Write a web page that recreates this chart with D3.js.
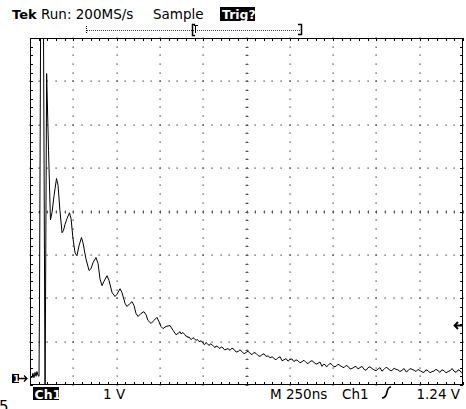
<!DOCTYPE html>
<html><head><meta charset="utf-8">
<script src="https://cdn.jsdelivr.net/npm/d3@7"></script>
<style>
html,body{margin:0;padding:0;background:#fff;}
svg{display:block;}
text{font-family:"DejaVu Sans",Arial,sans-serif;fill:#000;}
</style></head>
<body>
<svg id="c" width="466" height="409"></svg>
<script>
// ---- data (time in ns from left edge of screen, Ch1 voltage in V) ----
const timeNs = [0,12,17,23,29,35,40,46,52,55,62,77,87,96,107,118,127,139,153,162,173,185,193,202,214,228,237,248,260,271,283,297,306,323,341,352,364,381,393,404,416,427,445,456,474,491,502,520,531,549,560,577,589,601,612,624,641,658,670,681,699,716,733,745,756,768,785,808,826,
843,855,866,872,883,892,901,906,912,918,924,932,941,950,959,967,976,988,999,1008,1016,1025,1034,1042,1051,1060,1068,1074,1080,1088,1097,1105,1114,1123,1132,1143,1155,1166,1178,1190,1201,1212,1224,1236,1247,1259,1270,1282,1293,1305,1317,1328,1340,1351,1363,1375,1386,1398,1409,1420,1432,1444,1455,1466,1478,1490,1501,1512,1524,1536,1547,1559,1571,1582,1594,1605,1617,1628,1640,1652,1663,1674,1686,1695,1703,1712,1721,1732,1744,1755,1767,1778,1790,1801,1813,1825,1836,1848,1859,1870,1882,1894,1905,1917,1929,1940,1952,1963,1975,1986,1998,2010,2021,2032,2044,2056,2067,2078,2090,2102,2113,2124,2136,2148,2160,2172,2183,2194,2206,2218,2229,2240,2252,2264,2275,2286,2298,2310,2321,2332,2344,2356,2367,2378,2390,2402,2414,2426,2437,2448,2460,2472,2483,2492,2500];
const volts = [0.05,0.02,0.12,0.02,0.14,0.05,0.16,0.07,0.05,1.84,9,9,-0.5,7.03,5.25,3.66,3.82,4.22,4.61,4.45,3.87,3.36,3.41,3.55,3.69,3.82,3.69,3.23,2.90,2.83,3.06,3.25,3.13,2.76,2.49,2.53,2.67,2.79,2.65,2.30,2.14,2.24,2.37,2.26,1.98,1.89,1.94,2.07,1.98,1.73,1.66,1.73,1.77,1.68,1.50,1.43,1.50,1.54,1.47,1.34,1.27,1.34,1.41,1.31,1.20,1.15,1.20,1.22,1.11,
1.01,1.04,1.08,1.03,1.06,1.02,0.97,0.98,0.94,0.96,0.92,0.90,0.94,0.91,0.88,0.90,0.85,0.87,0.81,0.78,0.83,0.80,0.76,0.80,0.78,0.74,0.71,0.75,0.74,0.72,0.69,0.73,0.71,0.66,0.67,0.69,0.65,0.70,0.67,0.61,0.62,0.66,0.62,0.57,0.60,0.63,0.58,0.55,0.60,0.58,0.53,0.51,0.55,0.57,0.51,0.52,0.48,0.50,0.46,0.43,0.48,0.50,0.41,0.43,0.46,0.40,0.44,0.45,0.39,0.43,0.41,0.36,0.39,0.42,0.37,0.34,0.39,0.41,0.37,0.33,0.35,0.38,0.28,0.33,0.32,0.27,0.30,0.35,0.32,0.27,0.28,0.33,0.30,0.27,0.25,0.30,0.28,0.22,0.23,0.26,0.28,0.22,0.25,0.28,0.21,0.19,0.25,0.27,0.23,0.20,0.18,0.22,0.25,0.17,0.21,0.26,0.23,0.19,0.18,0.24,0.21,0.20,0.16,0.19,0.23,0.15,0.18,0.23,0.21,0.19,0.16,0.21,0.18,0.15,0.14,0.20,0.18,0.13,0.16,0.17,0.21,0.18,0.14,0.20,0.18,0.13,0.16,0.18,0.23,0.17,0.14,0.20,0.18,0.13,0.16];

// scope settings / labels
const headerLabels = ["Run: 200MS/s", "Sample"];
const trigStatus = "Trig?";
const footerLabels = ["1 V", "M 250ns", "Ch1", "1.24 V"];
const channelLabel = "Ch1";
const timePerDiv = 250;      // ns
const voltsPerDiv = 1;       // V
const trigLevel = 1.24;      // V
const hDivs = 10, vDivs = 8, minorPerDiv = 5;

// ---- layout ----
const L = 30, R = 463, T = 38, B = 385;
const groundOffsetV = -0.15;  // volts at bottom edge

const x = d3.scaleLinear().domain([0, timePerDiv*hDivs]).range([L, R]);
const y = d3.scaleLinear().domain([groundOffsetV, groundOffsetV + voltsPerDiv*vDivs]).range([B, T]);

const svg = d3.select("#c");

svg.append("clipPath").attr("id","scr").append("rect")
  .attr("x",L).attr("y",T).attr("width",R-L).attr("height",B-T);

const g = svg.append("g");

const xMinor = d3.range(0, hDivs*minorPerDiv+1).map(i => x(i*timePerDiv/minorPerDiv));
const yMinor = d3.range(0, vDivs*minorPerDiv+1).map(i => y(groundOffsetV + i*voltsPerDiv/minorPerDiv));
const xMajor = d3.range(1, hDivs).map(i => x(i*timePerDiv));
const yMajor = d3.range(1, vDivs).map(i => y(groundOffsetV + i*voltsPerDiv));

// grid dots
const dots = [];
xMajor.forEach(px => yMinor.forEach(py => dots.push([px,py])));
yMajor.forEach(py => xMinor.forEach(px => dots.push([px,py])));
g.selectAll("rect.dot").data(dots).enter().append("rect")
  .attr("x", d => Math.round(d[0])-0.5).attr("y", d => Math.round(d[1])-0.5)
  .attr("width",1.2).attr("height",1.2).attr("fill","#333");

// center axis ticks
const cx = x(timePerDiv*hDivs/2), cy = y(groundOffsetV + voltsPerDiv*vDivs/2);
g.selectAll("line.cvt").data(yMinor).enter().append("line")
  .attr("x1",Math.round(cx)-1.5).attr("x2",Math.round(cx)+1.5)
  .attr("y1",d=>Math.round(d)+0.5).attr("y2",d=>Math.round(d)+0.5)
  .attr("stroke","#555").attr("stroke-width",1);
g.selectAll("line.cht").data(xMinor).enter().append("line")
  .attr("y1",Math.round(cy)-1.5).attr("y2",Math.round(cy)+1.5)
  .attr("x1",d=>Math.round(d)+0.5).attr("x2",d=>Math.round(d)+0.5)
  .attr("stroke","#555").attr("stroke-width",1);

// border ticks
const tk = 3;
const bt = g.append("g").attr("stroke","#000").attr("stroke-width",1);
xMinor.forEach(px => {
  const xx = Math.round(px)+0.5;
  bt.append("line").attr("x1",xx).attr("x2",xx).attr("y1",T).attr("y2",T+tk);
  bt.append("line").attr("x1",xx).attr("x2",xx).attr("y1",B).attr("y2",B-tk);
});
yMinor.forEach(py => {
  const yy = Math.round(py)+0.5;
  bt.append("line").attr("x1",L).attr("x2",L+tk).attr("y1",yy).attr("y2",yy);
  bt.append("line").attr("x1",R).attr("x2",R-tk).attr("y1",yy).attr("y2",yy);
});

// frame
g.append("rect").attr("x",L+0.5).attr("y",T+0.5).attr("width",R-L-1).attr("height",B-T-1)
  .attr("fill","none").attr("stroke","#000").attr("stroke-width",1);

// waveform
const wave = timeNs.map((t,i) => [t, volts[i]]);
svg.append("path").datum(wave)
  .attr("clip-path","url(#scr)")
  .attr("d", d3.line().x(d => x(d[0])).y(d => y(d[1])))
  .attr("fill","none").attr("stroke","#000").attr("stroke-width",1)
  .attr("stroke-linejoin","round");

// header
svg.append("text").attr("x",12).attr("y",19).attr("font-size",13).attr("font-weight","bold").text("Tek");
svg.append("text").attr("x",41).attr("y",19).attr("font-size",13.5).text(headerLabels[0]);
svg.append("text").attr("x",153).attr("y",19).attr("font-size",13.5).text(headerLabels[1]);
svg.append("rect").attr("x",220).attr("y",7).attr("width",35).attr("height",14).attr("fill","#000");
svg.append("text").attr("x",222).attr("y",19).attr("font-size",12.5).attr("font-weight","bold")
  .style("fill","#fff").text(trigStatus);

// record bar
const rb = svg.append("g").attr("stroke","#000").attr("stroke-width",1);
rb.append("line").attr("x1",87).attr("x2",300).attr("y1",30.5).attr("y2",30.5).attr("stroke-dasharray","1,1").attr("stroke","#444");
rb.append("line").attr("x1",86.5).attr("x2",86.5).attr("y1",26).attr("y2",34).attr("stroke-dasharray","1,1");
rb.append("path").attr("d","M195,24.5 H192.5 V35.5 H195").attr("fill","none").attr("stroke-width",1.5);
rb.append("path").attr("d","M194,25.5 H198 M195.5,25.5 V33").attr("fill","none");
rb.append("path").attr("d","M298,24.5 H301.5 V34.5 H298").attr("fill","none").attr("stroke-width",1.5);

// footer
svg.append("rect").attr("x",33).attr("y",387).attr("width",26).attr("height",13).attr("fill","#000");
svg.append("text").attr("x",34.5).attr("y",398.5).attr("font-size",12.5).attr("font-weight","bold").style("fill","#fff").text(channelLabel);
svg.append("text").attr("x",103).attr("y",398.5).attr("font-size",13.5).text(footerLabels[0]);
svg.append("text").attr("x",270).attr("y",398.5).attr("font-size",13.5).text(footerLabels[1]);
svg.append("text").attr("x",342).attr("y",398.5).attr("font-size",13.5).text(footerLabels[2]);
svg.append("path").attr("d","M382,398 Q386,398 387,392 Q388,387 391,387").attr("fill","none").attr("stroke","#000").attr("stroke-width",1.6);
svg.append("text").attr("x",460).attr("y",398.5).attr("font-size",13.5).attr("text-anchor","end").text(footerLabels[3]);
svg.append("text").attr("x",-1).attr("y",412).attr("font-size",15).text("5");

// ground marker
const gy = Math.round(y(0));
svg.append("rect").attr("x",12).attr("y",gy-4).attr("width",7).attr("height",9).attr("fill","#000");
svg.append("text").attr("x",13.2).attr("y",gy+4).attr("font-size",9).attr("font-weight","bold").style("fill","#fff").text("1");
svg.append("path").attr("d",`M19,${gy+0.5} H27 M24,${gy-2.5} L27,${gy+0.5} L24,${gy+3.5}`).attr("fill","none").attr("stroke","#000").attr("stroke-width",1.3);

// trigger level marker
const ty = Math.round(y(trigLevel));
svg.append("path").attr("d",`M455,${ty+0.5} H463 M458,${ty-3} L454.5,${ty+0.5} L458,${ty+4}`).attr("fill","none").attr("stroke","#000").attr("stroke-width",1.8);
</script>
</body></html>
